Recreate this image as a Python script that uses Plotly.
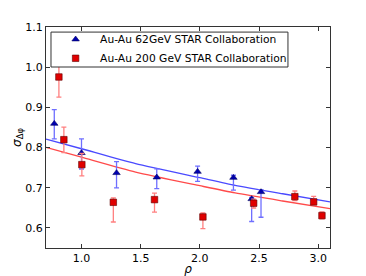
import plotly.graph_objects as go

# Au-Au 62 GeV (blue triangles)
rho_62 = [0.77, 1.00, 1.296, 1.636, 1.981, 2.284, 2.438, 2.517]
sig_62 = [0.8595, 0.7866, 0.7368, 0.7259, 0.740, 0.725, 0.672, 0.6895]
err_62_plus = [0.035, 0.035, 0.028, 0.021, 0.014, 0.006, 0.004, 0.006]
err_62_minus = [0.038, 0.040, 0.037, 0.028, 0.024, 0.031, 0.056, 0.063]

# Au-Au 200 GeV (red squares)
rho_200 = [0.809, 0.851, 1.003, 1.269, 1.617, 2.026, 2.455, 2.803, 2.962, 3.032]
sig_200 = [0.9756, 0.8196, 0.7575, 0.6637, 0.6704, 0.6273, 0.6615, 0.6779, 0.6647, 0.6306]
err_200_plus = [0.05, 0.031, 0.028, 0.011, 0.016, 0.010, 0.010, 0.014, 0.014, 0.009]
err_200_minus = [0.05, 0.032, 0.028, 0.049, 0.031, 0.029, 0.012, 0.010, 0.007, 0.008]

# fit curves
fit_rho = [0.7, 1.0, 1.457, 2.0, 2.298, 2.7, 3.1]
fit_62 = [0.821, 0.797, 0.760, 0.725, 0.706, 0.685, 0.665]
fit_200 = [0.8005, 0.776, 0.739, 0.705, 0.687, 0.667, 0.648]

x_ticks = [1.0, 1.5, 2.0, 2.5, 3.0]
y_ticks = [0.6, 0.7, 0.8, 0.9, 1.0, 1.1]

FONT = "DejaVu Sans"

fig = go.Figure()
fig.add_trace(go.Scatter(x=fit_rho, y=fit_62, mode="lines", line=dict(color="#4a4aff", width=1.3, shape="spline", smoothing=0.6),
                         showlegend=False, hoverinfo="skip"))
fig.add_trace(go.Scatter(x=fit_rho, y=fit_200, mode="lines", line=dict(color="#ff4a4a", width=1.3, shape="spline", smoothing=0.6),
                         showlegend=False, hoverinfo="skip"))
fig.add_trace(go.Scatter(
    x=rho_62, y=sig_62, mode="markers", name="Au-Au 62GeV STAR Collaboration",
    marker=dict(symbol="triangle-up", size=6.5, color="#0000b0", line=dict(color="#000060", width=0.6)),
    error_y=dict(type="data", symmetric=False, array=err_62_plus, arrayminus=err_62_minus,
                 color="#6f6fff", thickness=1.3, width=2.5),
))
fig.add_trace(go.Scatter(
    x=rho_200, y=sig_200, mode="markers", name="Au-Au 200 GeV STAR Collaboration",
    marker=dict(symbol="square", size=6.5, color="#e00000", line=dict(color="#600000", width=0.6)),
    error_y=dict(type="data", symmetric=False, array=err_200_plus, arrayminus=err_200_minus,
                 color="#ff8080", thickness=1.3, width=2.5),
))

axis_common = dict(
    showline=True, linecolor="#333", linewidth=1, mirror="ticks",
    ticks="inside", ticklen=4, tickcolor="#333", tickwidth=1,
    showgrid=False, zeroline=False,
    tickfont=dict(family=FONT, size=11, color="black"),
)

fig.update_layout(
    width=366, height=276,
    margin=dict(l=46, r=36, t=27, b=28, autoexpand=False),
    paper_bgcolor="white", plot_bgcolor="white",
    font=dict(family=FONT, color="black"),
    xaxis=dict(range=[0.7, 3.1], tickvals=x_ticks, ticktext=["1.0", "1.5", "2.0", "2.5", "3.0"],
               title=dict(text="<i>ρ</i>", font=dict(family=FONT, size=12), standoff=2), **axis_common),
    yaxis=dict(range=[0.55, 1.1], tickvals=y_ticks, ticktext=["0.6", "0.7", "0.8", "0.9", "1.0", "1.1"],
               title=dict(text="<i>σ</i><sub>Δφ</sub>", font=dict(family=FONT, size=12), standoff=0), **axis_common),
    legend=dict(x=0.018, y=1.01, xanchor="left", yanchor="top",
                bgcolor="rgba(255,255,255,0)", borderwidth=0,
                font=dict(family=FONT, size=10.7), tracegroupgap=0, itemwidth=39),
    showlegend=True,
    shapes=[dict(type="rect", xref="paper", yref="paper", x0=0.0176, x1=0.852, y0=0.819, y1=0.977,
                 fillcolor="white", line=dict(color="#333", width=1), layer="above")],
)

fig.write_html("out.html", config={"displayModeBar": False},
               post_script="document.body.style.margin='0';document.body.style.padding='0';")
